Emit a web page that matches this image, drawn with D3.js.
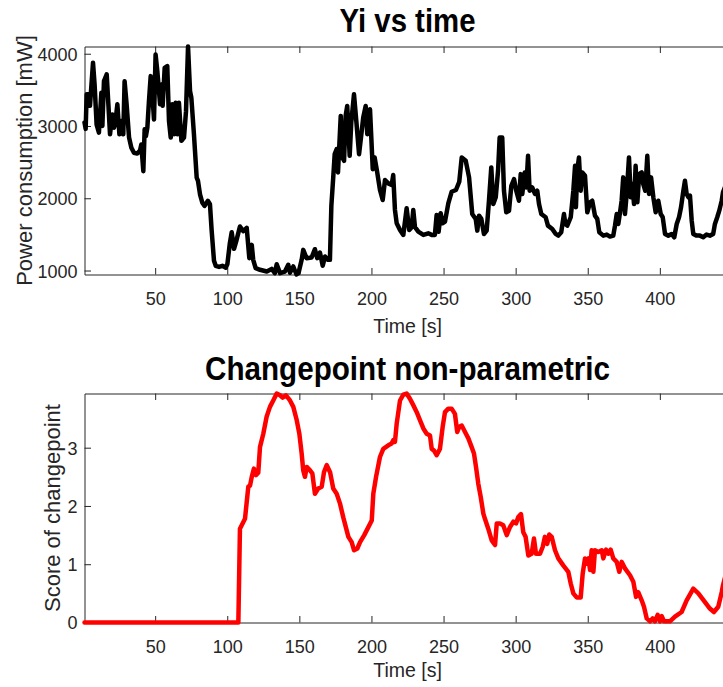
<!DOCTYPE html>
<html>
<head>
<meta charset="utf-8">
<script src="https://cdn.jsdelivr.net/npm/d3@7"></script>
<style>
  body { margin: 0; background: #fff; }
  svg { display: block; font-family: "Liberation Sans", Arial, Helvetica, sans-serif; }
</style>
</head>
<body>
<svg id="chart" width="723" height="687"></svg>
<script>
// power trace (top plot), time in s, power in mW
const timeA = [1, 1.8, 2.5, 4.1, 4.8, 6.9, 8, 9.4, 11, 12.7, 13.4, 14.5, 16.4, 17.5, 18.7, 20.3, 21.5, 22.6, 23.8, 25.2,
  26.5, 27.9, 28.8, 30.2, 31.9, 33.5, 35.3, 37.6, 39.5, 40.4, 41.8, 42.7, 43.6, 44.6, 45.7, 46.9, 48, 49.2, 50.3, 51.5,
  53.4, 54.3, 55.2, 56.6, 58.4, 59.6, 60.8, 61.9, 63.1, 64.2, 65.4, 66.5, 68.2, 70, 71.4, 72.8, 74.2, 75.1, 76.9, 78.8,
  79.7, 81.1, 82.7, 84.3, 86.6, 88, 89.2, 90.8, 92, 94.3, 96.6, 99, 100.1, 101.7, 103.1, 104.7, 106.3, 108.8, 111.1, 113.5,
  115.3, 117, 118, 119.7, 122.7, 127.4, 130.8, 133, 134.3, 136.6, 140, 142.3, 143.5, 145.8, 148, 149.4, 151.6, 152.7, 155, 158.5,
  160.8, 162.4, 164.3, 166.2, 167.8, 170, 171.2, 172.2, 173.5, 174.5, 175.9, 176.8, 178.7, 179.8, 181, 182.1, 183.2, 184.9, 186, 187.9,
  189.5, 191.4, 193, 194.3, 196, 197.1, 199, 200.9, 202.2, 204, 205.9, 207.8, 209.4, 211.7, 214, 215.1, 216.3, 217.5, 219.8, 222.1,
  224.4, 226.2, 227.9, 229, 230.2, 232.5, 236, 239.4, 241.8, 244, 245.2, 246.6, 248, 249.4, 251, 253.3, 255.6, 258.6, 260.9, 262.6,
  265.4, 267.7, 269.9, 272.3, 273.4, 274.6, 276.2, 278, 279.9, 281.5, 283.1, 284.5, 286.2, 287.8, 288.9, 290.7, 291.9, 293.5, 295.4, 297,
  298.9, 300.4, 302.3, 303.5, 304.6, 306.3, 307.4, 308.6, 309.7, 311.5, 313.4, 315, 316.2, 317.8, 320.8, 322.4, 325.4, 327.8, 329.6, 331.6,
  333.5, 334.5, 335.8, 338.2, 340, 341.2, 341.8, 342.7, 343.9, 345.1, 346.2, 348.1, 349.7, 351.6, 353.1, 355, 356.6, 358, 360.8, 363.2,
  365.4, 367.7, 368.9, 370.1, 371.2, 372.4, 373.5, 374.6, 375.8, 377, 378.6, 379.8, 380.9, 382.1, 383.2, 384.4, 385.7, 387.4, 388.5, 389.9,
  391.3, 392.5, 393.9, 395.5, 397.1, 398.9, 400.6, 402, 403.6, 405.9, 408.2, 410, 411.7, 413.3, 414.7, 416.3, 417.4, 418.6, 419.8, 420.9,
  422.1, 423.2, 425.5, 427.8, 430.1, 432.4, 434.7, 437, 438.2, 439.8, 441.2, 442.9, 443.8, 446, 449];
const powerA = [3050, 2960, 3440, 3440, 3280, 3875, 3575, 3020, 2908, 3460, 3000, 3620, 3714, 3320, 2885, 3160, 2977, 3090, 3300, 2885,
  3070, 2885, 3620, 3300, 2840, 2700, 2630, 2618, 2660, 2744, 2375, 2955, 2860, 2977, 3345, 3690, 3460, 3090, 3990, 3760,
  3300, 3575, 3280, 3805, 3830, 3070, 2840, 3300, 2885, 3320, 2885, 3320, 2795, 2840, 3205, 4100, 3480, 3390, 2885, 2285,
  2240, 2055, 1940, 1895, 1965, 1918, 1550, 1135, 1065, 1050, 1065, 1040, 1090, 1365, 1530, 1300, 1410, 1610, 1545, 1590,
  1171, 1355, 1148, 1033, 1010, 986, 1022, 964, 1088, 964, 986, 1079, 970, 1056, 945, 964, 1148, 1286, 1171, 1180,
  1295, 1171, 1248, 1065, 1194, 1148, 1148, 1897, 2289, 2610, 2680, 2358, 3139, 2565, 2518, 3139, 3277, 2587, 3048, 3438,
  3070, 2610, 2886, 3117, 3277, 2886, 3231, 2403, 2565, 2358, 2114, 1976, 2252, 2206, 2183, 2321, 1838, 1654, 1562, 1493,
  1861, 1562, 1600, 1838, 1600, 1538, 1493, 1515, 1493, 1493, 1769, 1538, 1792, 1654, 1677, 1930, 2090, 2114, 2228, 2565,
  2518, 2289, 1782, 1714, 1552, 1759, 1714, 1506, 1552, 1966, 2427, 1920, 2013, 2380, 2841, 2841, 2104, 1806, 1828, 2173,
  2265, 2104, 1966, 2334, 2059, 2358, 2150, 2587, 2104, 2150, 2059, 2104, 1920, 1782, 1737, 1621, 1575, 1506, 1483, 1529,
  1782, 1644, 1621, 1737, 2104, 2449, 1875, 2380, 2565, 2104, 2358, 2311, 1806, 1944, 1966, 1759, 1714, 1530, 1483, 1497,
  1470, 1483, 1621, 1782, 1644, 1806, 1966, 2289, 1782, 2059, 2565, 2013, 2196, 1920, 2449, 1944, 2334, 2358, 2196, 2104,
  2587, 2059, 2289, 2013, 1806, 1966, 1782, 1737, 1506, 1483, 1506, 1460, 1644, 1737, 1875, 2104, 2242, 2059, 2013, 2036,
  1690, 1506, 1483, 1483, 1460, 1497, 1483, 1506, 1644, 1737, 1828, 1966, 2082, 2200, 2250];

// changepoint score (bottom plot)
const timeB = [1, 107.7, 108.8, 112.3, 114.6, 115.8, 117, 118.5, 119.9, 121.5, 122.7, 125, 127.3, 129.6, 131.9, 134.3, 136.6, 138.4, 140.7, 143.5,
  145.8, 148.2, 150, 151.6, 152.7, 153.9, 155.1, 157.4, 159, 160.8, 163.1, 165.5, 167.1, 169, 171.3, 173.5, 175.9, 178.2, 180.5, 184,
  186.3, 187.9, 190.2, 192.1, 195, 197.5, 200.2, 201.3, 203.2, 205.9, 208.2, 211.7, 214, 215.2, 216.3, 217.5, 219.8, 222.1, 224.4, 226.7,
  229, 231.4, 233.7, 236, 238.3, 240.6, 241.8, 243.4, 245.2, 247.5, 249.4, 251, 253.3, 255.6, 257.9, 259.5, 260.9, 262.6, 264.9, 267.2,
  269.5, 271.1, 272.5, 274.1, 275.8, 277.6, 278.7, 281, 283.4, 285.7, 286.9, 289.1, 291.4, 293.8, 296.1, 298.4, 300.3, 301.8, 303.7, 305.3,
  306.9, 308.8, 311.1, 312.7, 314.1, 316.9, 318.8, 320.3, 321.9, 323.3, 325, 327.3, 329.6, 333, 336.5, 338.2, 340, 342.3, 345.1, 346.5,
  348.1, 349.3, 350.5, 351.6, 352.7, 353.9, 355, 357.3, 359.7, 360.8, 362.7, 364.3, 365.9, 367.7, 370.1, 371.9, 373.5, 375.8, 379.3, 381.6,
  383.5, 385, 387.4, 389, 390.9, 393.2, 395, 396.6, 398.5, 400.1, 401.3, 402.9, 407, 410.5, 415.1, 418.6, 423.2, 426.7, 431.3, 434.7,
  437.5, 440.5, 442.9, 443.8, 446, 449];
const scoreB = [0, 0, 1.61, 1.78, 2.33, 2.35, 2.50, 2.64, 2.53, 2.57, 3.01, 3.24, 3.53, 3.70, 3.81, 3.93, 3.90, 3.86, 3.90, 3.81,
  3.70, 3.47, 3.24, 2.90, 2.61, 2.50, 2.67, 2.61, 2.56, 2.21, 2.30, 2.33, 2.58, 2.70, 2.58, 2.30, 2.21, 2.04, 1.80, 1.47,
  1.38, 1.24, 1.27, 1.38, 1.50, 1.62, 1.75, 2.21, 2.50, 2.84, 2.98, 3.04, 3.07, 3.13, 3.10, 3.41, 3.81, 3.91, 3.93, 3.84,
  3.73, 3.61, 3.47, 3.33, 3.24, 3.21, 2.98, 2.95, 2.87, 2.98, 3.36, 3.61, 3.67, 3.67, 3.58, 3.27, 3.36, 3.38, 3.27, 3.16,
  3.01, 2.90, 2.67, 2.38, 2.15, 1.87, 1.78, 1.61, 1.41, 1.33, 1.70, 1.70, 1.67, 1.50, 1.64, 1.73, 1.70, 1.81, 1.86, 1.55,
  1.47, 1.15, 1.18, 1.44, 1.18, 1.18, 1.30, 1.47, 1.35, 1.51, 1.47, 1.24, 1.10, 0.98, 0.87, 0.67, 0.50, 0.43, 0.43, 0.84,
  1.10, 1.01, 1.10, 0.90, 1.24, 0.87, 1.24, 1.21, 1.24, 1.10, 1.25, 1.18, 1.25, 1.10, 1.04, 0.87, 1.04, 0.93, 0.81, 0.70,
  0.44, 0.52, 0.38, 0.27, 0.07, 0.02, 0.07, 0.02, 0.13, 0.02, 0.11, 0.02, 0.02, 0.10, 0.18, 0.38, 0.58, 0.50, 0.35, 0.24,
  0.18, 0.27, 0.52, 0.64, 0.85, 1.05];

const xTicks = [50, 100, 150, 200, 250, 300, 350, 400];
const powerTicks = [1000, 2000, 3000, 4000];
const scoreTicks = [0, 1, 2, 3];

const axisCol = "#262626";
const svg = d3.select("#chart");
svg.append("rect").attr("width", 723).attr("height", 687).attr("fill", "#fff");

function panel(opt) {
  const x = d3.scaleLinear().domain([1, 449]).range([84.5, 730.5]);
  const y = d3.scaleLinear().domain(opt.ydomain).range([opt.bottom, opt.top]);
  const g = svg.append("g");

  // box: bottom axis with labels
  const xb = g.append("g")
    .attr("transform", `translate(0,${opt.bottom})`)
    .call(d3.axisBottom(x).tickValues(xTicks).tickSizeInner(-6.5).tickSizeOuter(0).tickFormat(d3.format("d")));
  xb.selectAll("text").attr("y", 30.5).attr("dy", null)
    .attr("font-size", "18px").attr("fill", axisCol);

  g.append("g")
    .attr("transform", `translate(0,${opt.top})`)
    .call(d3.axisTop(x).tickValues(xTicks).tickSizeInner(-6.5).tickSizeOuter(0).tickFormat(""));

  const yl = g.append("g")
    .attr("transform", "translate(84.5,0)")
    .call(d3.axisLeft(y).tickValues(opt.yticks).tickSizeInner(-6.5).tickSizeOuter(0).tickFormat(d3.format("d")));
  yl.selectAll("text").attr("x", -7).attr("dy", "0.36em")
    .attr("font-size", "18px").attr("fill", axisCol);

  g.selectAll(".domain, .tick line").attr("stroke", axisCol).attr("stroke-width", 1);

  // series
  const line = d3.line().x((d, i) => x(opt.xs[i])).y(d => y(d));
  g.append("path")
    .datum(opt.ys)
    .attr("d", line)
    .attr("fill", "none")
    .attr("stroke", opt.color)
    .attr("stroke-width", 4.5)
    .attr("stroke-linejoin", "round")
    .attr("stroke-linecap", "round");

  // title and labels
  g.append("text")
    .attr("x", 407.5).attr("y", opt.titleY)
    .attr("text-anchor", "middle")
    .attr("font-weight", "bold")
    .attr("font-size", "33px")
    .attr("textLength", opt.titleLen)
    .attr("lengthAdjust", "spacingAndGlyphs")
    .attr("fill", "#000")
    .text(opt.title);

  g.append("text")
    .attr("x", 407.5).attr("y", opt.bottom + opt.xlabOff)
    .attr("text-anchor", "middle")
    .attr("font-size", "19.5px")
    .attr("fill", axisCol)
    .text("Time [s]");

  g.append("text")
    .attr("transform", `translate(${opt.ylabX},${(opt.top + opt.bottom) / 2}) rotate(-90)`)
    .attr("text-anchor", "middle")
    .attr("font-size", "22px")
    .attr("fill", axisCol)
    .text(opt.ylabel);
}

panel({
  xs: timeA, ys: powerA, color: "#000",
  top: 46.5, bottom: 274.5,
  ydomain: d3.extent(powerA), yticks: powerTicks,
  title: "Yi vs time", titleY: 32, titleLen: 136,
  xlabOff: 58, ylabel: "Power consumption [mW]", ylabX: 32
});

panel({
  xs: timeB, ys: scoreB, color: "#ff0000",
  top: 393.5, bottom: 622.5,
  ydomain: [0, d3.max(scoreB.slice(0, -2))], yticks: scoreTicks,
  title: "Changepoint non-parametric", titleY: 380, titleLen: 405,
  xlabOff: 54, ylabel: "Score of changepoint", ylabX: 60
});
</script>
</body>
</html>
